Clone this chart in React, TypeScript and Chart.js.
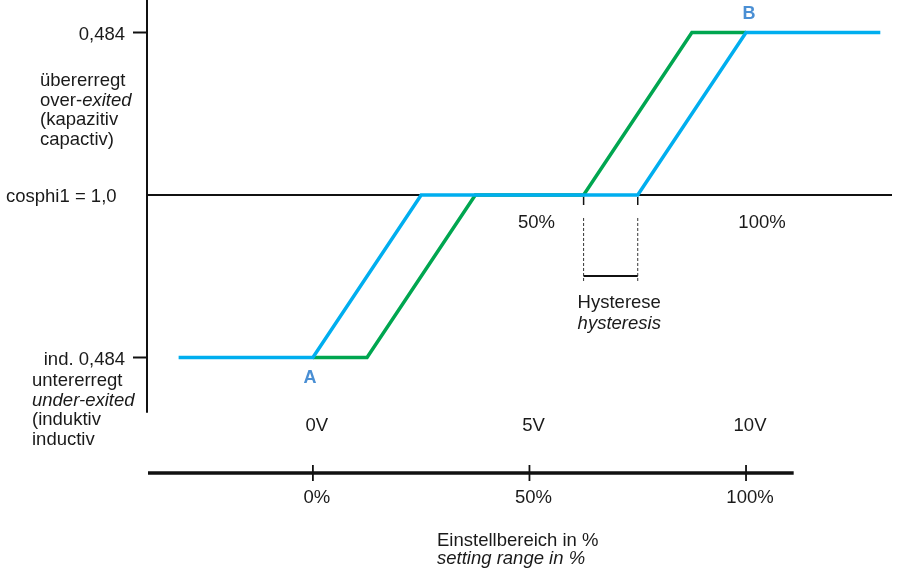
import React, { useEffect, useRef } from "react";
import { Chart, registerables } from "chart.js";

Chart.register(...registerables);

// ---- data ----
const greenX = [0, 12.5, 37.5, 62.5, 87.5, 100];
const greenY = [-1, -1, 0, 0, 1, 1];
const blueX = [-31, 0, 25, 75, 100, 131];
const blueY = [-1, -1, 0, 0, 1, 1];

const bottomTicks = [0, 50, 100];
const voltLabels = ["0V", "5V", "10V"];
const pctLabels = ["0%", "50%", "100%"];
const innerPctTicks = [50, 100];
const innerPctLabels = ["50%", "100%"];

const yTickValues = [1, 0, -1];
const yTickLabels = ["0,484", "cosphi1 = 1,0", "ind. 0,484"];
const upperNote = ["übererregt", "over-|exited", "(kapazitiv", "capactiv)"];
const lowerNote = ["untererregt", "|under-exited", "(induktiv", "inductiv"];
const hysteresisRange = [62.5, 75];
const pointA = { x: 0, y: -1, label: "A" };
const pointB = { x: 100, y: 1, label: "B" };

const GREEN = "#00a650";
const BLUE = "#00aeef";
const LABEL_BLUE = "#4a8fd4";
const FONT = "'Liberation Sans', Arial, sans-serif";
const FS = 18.5;

function mixedText(ctx: CanvasRenderingContext2D, s: string, x: number, y: number) {
  const parts = s.split("|");
  let cx = x;
  parts.forEach((p, i) => {
    const italic = i === 1;
    ctx.font = `${italic ? "italic " : ""}${FS}px ${FONT}`;
    ctx.fillText(p, cx, y);
    cx += ctx.measureText(p).width;
  });
}

const diagramPlugin = {
  id: "diagram",
  beforeDatasetsDraw(chart: any) {
    const ctx: CanvasRenderingContext2D = chart.ctx;
    const xs = chart.scales.x;
    const ys = chart.scales.y;
    const area = chart.chartArea;
    const axX = area.left;
    const y0 = ys.getPixelForValue(0);
    ctx.save();
    ctx.strokeStyle = "#111";
    // vertical axis
    ctx.lineWidth = 2;
    ctx.beginPath();
    ctx.moveTo(axX, 0);
    ctx.lineTo(axX, ys.getPixelForValue(-1.34));
    ctx.stroke();
    // left ticks
    ctx.lineWidth = 2;
    yTickValues.forEach((v) => {
      const py = ys.getPixelForValue(v);
      ctx.beginPath();
      if (v === 0) {
        ctx.moveTo(axX, py);
        ctx.lineTo(area.right, py);
      } else {
        ctx.moveTo(axX - 14, py);
        ctx.lineTo(axX, py);
      }
      ctx.stroke();
    });
    // hysteresis marker
    const hx = hysteresisRange.map((v) => xs.getPixelForValue(v));
    ctx.lineWidth = 1.5;
    hx.forEach((px) => {
      ctx.beginPath();
      ctx.moveTo(px, y0 + 2);
      ctx.lineTo(px, y0 + 10);
      ctx.stroke();
    });
    ctx.lineWidth = 1;
    ctx.strokeStyle = "#333";
    ctx.setLineDash([3, 2]);
    hx.forEach((px) => {
      ctx.beginPath();
      ctx.moveTo(px, y0 + 23);
      ctx.lineTo(px, y0 + 88);
      ctx.stroke();
    });
    ctx.setLineDash([]);
    ctx.strokeStyle = "#111";
    ctx.lineWidth = 2;
    ctx.beginPath();
    ctx.moveTo(hx[0], y0 + 81);
    ctx.lineTo(hx[1], y0 + 81);
    ctx.stroke();
    // bottom axis
    const by = area.bottom;
    ctx.lineWidth = 3.5;
    ctx.beginPath();
    ctx.moveTo(axX + 1, by);
    ctx.lineTo(xs.getPixelForValue(111), by);
    ctx.stroke();
    ctx.lineWidth = 1.8;
    bottomTicks.forEach((v) => {
      const px = xs.getPixelForValue(v);
      ctx.beginPath();
      ctx.moveTo(px, by - 8);
      ctx.lineTo(px, by + 8);
      ctx.stroke();
    });
    ctx.restore();
  },
  afterDraw(chart: any) {
    const ctx: CanvasRenderingContext2D = chart.ctx;
    const xs = chart.scales.x;
    const ys = chart.scales.y;
    const area = chart.chartArea;
    const axX = area.left;
    const y0 = ys.getPixelForValue(0);
    ctx.save();
    ctx.fillStyle = "#1a1a1a";
    ctx.font = `${FS}px ${FONT}`;
    ctx.textBaseline = "middle";
    // y tick labels
    yTickValues.forEach((v, i) => {
      const py = ys.getPixelForValue(v) + 2;
      if (v === 0) {
        ctx.textAlign = "left";
        ctx.fillText(yTickLabels[i], 6, py);
      } else {
        ctx.textAlign = "right";
        ctx.fillText(yTickLabels[i], axX - 22, py);
      }
    });
    ctx.textAlign = "left";
    upperNote.forEach((s, i) => mixedText(ctx, s, 40, 81 + i * 19.5));
    lowerNote.forEach((s, i) => {
      if (s.startsWith("|")) {
        ctx.font = `italic ${FS}px ${FONT}`;
        ctx.fillText(s.slice(1), 32, 381 + i * 19.5);
      } else mixedText(ctx, s, 32, 381 + i * 19.5);
    });
    // inner % labels
    ctx.font = `${FS}px ${FONT}`;
    ctx.textAlign = "center";
    innerPctTicks.forEach((v, i) => {
      ctx.fillText(innerPctLabels[i], xs.getPixelForValue(v) + 7 + i * 9, y0 + 28);
    });
    // volt / pct labels
    const by = area.bottom;
    bottomTicks.forEach((v, i) => {
      const px = xs.getPixelForValue(v) + 4;
      ctx.fillText(voltLabels[i], px, by - 47);
      ctx.fillText(pctLabels[i], px, by + 25);
    });
    // hysteresis label
    ctx.textAlign = "left";
    const hx0 = xs.getPixelForValue(hysteresisRange[0]) - 6;
    ctx.fillText("Hysterese", hx0, y0 + 108);
    ctx.font = `italic ${FS}px ${FONT}`;
    ctx.fillText("hysteresis", hx0, y0 + 129);
    // axis title
    ctx.font = `${FS}px ${FONT}`;
    ctx.fillText("Einstellbereich in %", 437, by + 68);
    ctx.font = `italic ${FS}px ${FONT}`;
    ctx.fillText("setting range in %", 437, by + 86);
    // A / B
    ctx.fillStyle = LABEL_BLUE;
    ctx.font = `bold 18px ${FONT}`;
    ctx.textAlign = "center";
    ctx.fillText(pointA.label, xs.getPixelForValue(pointA.x) - 3, ys.getPixelForValue(pointA.y) + 21);
    ctx.fillText(pointB.label, xs.getPixelForValue(pointB.x) + 3, ys.getPixelForValue(pointB.y) - 18);
    ctx.restore();
  },
};

export default function App() {
  const ref = useRef<HTMLCanvasElement | null>(null);
  useEffect(() => {
    if (!ref.current) return;
    const chart = new Chart(ref.current, {
      type: "scatter",
      data: {
        datasets: [
          {
            label: "green",
            data: greenX.map((x, i) => ({ x, y: greenY[i] })),
            showLine: true,
            borderColor: GREEN,
            backgroundColor: GREEN,
            borderWidth: 3.5,
            pointRadius: 0,
            tension: 0,
            order: 2,
          },
          {
            label: "blue",
            data: blueX.map((x, i) => ({ x, y: blueY[i] })),
            showLine: true,
            borderColor: BLUE,
            backgroundColor: BLUE,
            borderWidth: 3.5,
            pointRadius: 0,
            tension: 0,
            order: 1,
          },
        ],
      },
      options: {
        responsive: false,
        animation: false,
        devicePixelRatio: 1,
        layout: { padding: { left: 147, right: 6, top: 0, bottom: 96 } },
        plugins: { legend: { display: false }, tooltip: { enabled: false } },
        scales: {
          x: { type: "linear", min: -38.3, max: 133.7, display: false },
          y: { type: "linear", min: -1.7108, max: 1.2, display: false },
        },
      },
      plugins: [diagramPlugin],
    });
    return () => chart.destroy();
  }, []);
  return (
    <div style={{ position: "absolute", left: 0, top: 0, width: 898, height: 569, background: "#fff" }}>
      <canvas ref={ref} width={898} height={569} />
    </div>
  );
}
